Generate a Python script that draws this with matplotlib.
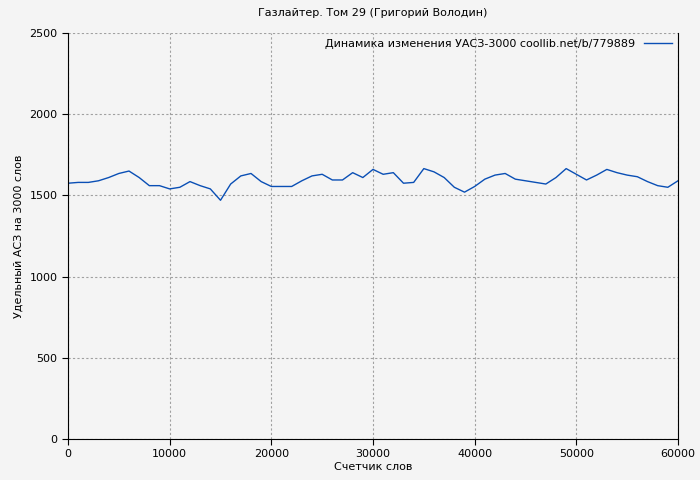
import matplotlib
matplotlib.use("Agg")
import matplotlib.pyplot as plt

x = list(range(0, 61000, 1000))
y = [1575,1580,1580,1590,1610,1635,1650,1610,1560,1560,1540,1550,1585,1560,1540,1470,1570,1620,1635,1585,
     1555,1555,1555,1590,1620,1630,1595,1595,1640,1610,1660,1630,1640,1575,1580,1665,1645,1610,1550,1520,
     1555,1600,1625,1635,1600,1590,1580,1570,1610,1665,1630,1595,1625,1660,1640,1625,1615,1585,1560,1550,1590]

fig = plt.figure(figsize=(7, 4.8), dpi=100, facecolor="#f4f4f4")
ax = fig.add_axes([68/700, 41/480, 610/700, 406/480], facecolor="#f4f4f4")
ax.plot(x, y, color="#0a4fb5", lw=1, label="Динамика изменения УАСЗ-3000 coollib.net/b/779889")
ax.set_xlim(0, 60000)
ax.set_ylim(0, 2500)
ax.set_xticks(range(0, 60001, 10000))
ax.set_yticks(range(0, 2501, 500))
ax.grid(True, color="#a0a0a0", ls=(0, (2, 2)), lw=0.8)
ax.spines["top"].set_visible(False)
ax.tick_params(labelsize=8, direction="out", length=4)
ax.set_xlabel("Счетчик слов", fontsize=8, labelpad=2)
ax.set_ylabel("Удельный АСЗ на 3000 слов", fontsize=8)
ax.set_title("Газлайтер. Том 29 (Григорий Володин)", fontsize=8, pad=12)
leg = ax.legend(loc="upper right", fontsize=8, frameon=False, markerfirst=False, handlelength=2.6, borderaxespad=0.1)
fig.savefig("out.png", facecolor=fig.get_facecolor())
